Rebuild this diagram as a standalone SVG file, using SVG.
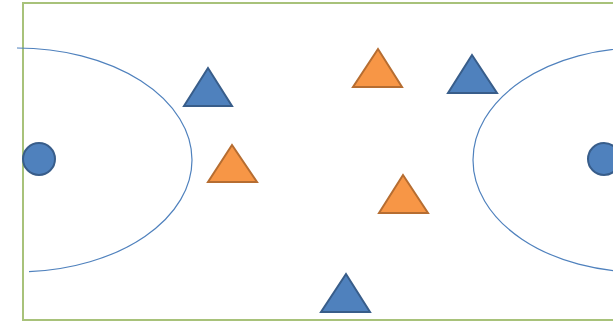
<svg xmlns="http://www.w3.org/2000/svg" width="613" height="321" viewBox="0 0 613 321">
<style>
.court{fill:#ffffff;stroke:#A8C27A;stroke-width:2}
.arc{fill:none;stroke:#4F81BD;stroke-width:1.2}
.blue{fill:#4F81BD;stroke:#385D8A;stroke-width:2;stroke-linejoin:miter}
.orange{fill:#F79646;stroke:#B66D31;stroke-width:2;stroke-linejoin:miter}
</style>
<rect width="613" height="321" fill="#ffffff"/>
<g id="court">
<rect class="court" x="23" y="3" width="610" height="317"/>
<path class="arc" d="M17,48 A175,112 0 0 1 192,160 A175,112 0 0 1 29,271.7"/>
<path class="arc" d="M640,48 A167,112 0 0 0 473,160 A167,112 0 0 0 640,272"/>
</g>
<g id="circle-left"><circle class="blue" cx="39" cy="159" r="16"/></g>
<g id="circle-right"><circle class="blue" cx="604" cy="159" r="16"/></g>
<g id="blue-1"><polygon class="blue" points="208,68 184,106 232,106"/></g>
<g id="orange-1"><polygon class="orange" points="232,145 208,182 257,182"/></g>
<g id="orange-2"><polygon class="orange" points="378,49 353,87 402,87"/></g>
<g id="blue-2"><polygon class="blue" points="472,55 448,93 497,93"/></g>
<g id="orange-3"><polygon class="orange" points="403,175 379,213 428,213"/></g>
<g id="blue-3"><polygon class="blue" points="346,274 321,312 370,312"/></g>
<g id="connectors"></g>
</svg>
